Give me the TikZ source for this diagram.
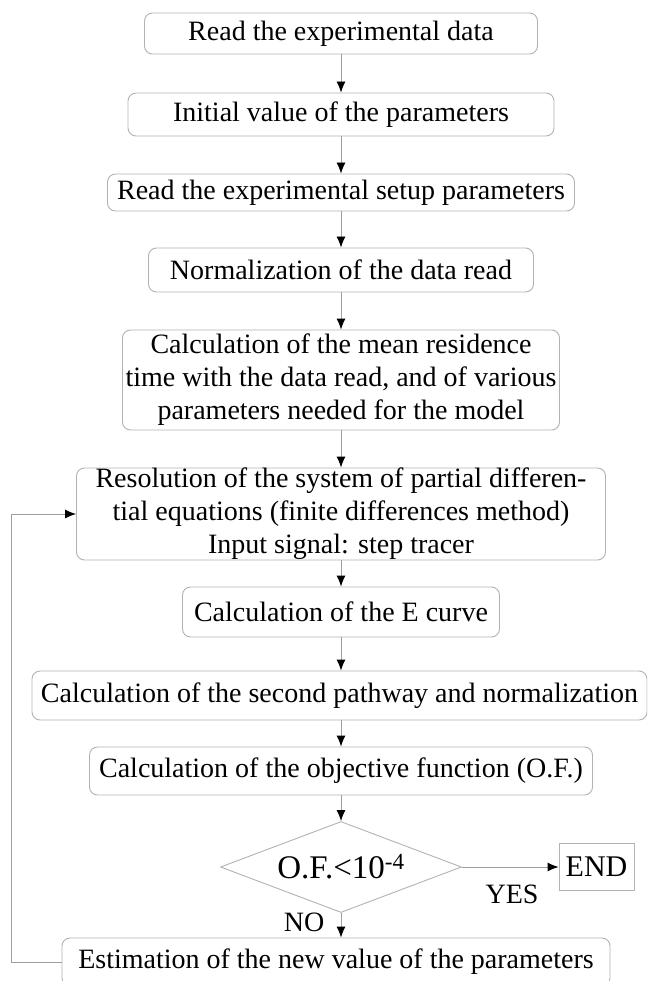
\documentclass[tikz,border=0pt]{standalone}
\usepackage{fontspec}
\setmainfont{Liberation Serif}
\usetikzlibrary{shapes.geometric, arrows.meta}

\begin{document}
\begin{tikzpicture}[x=1pt, y=-1pt,
    box/.style={draw=gray!60, rounded corners=8pt, line width=0.9pt, inner sep=0pt, align=center, font=\fontsize{28}{33}\selectfont},
    flow/.style={draw=gray!75, line width=0.9pt, -{Latex[length=11pt, width=9pt, color=black]}},
    tag/.style={font=\fontsize{28}{33}\selectfont}]
    % Frame
    \clip (0,0) rectangle (647,981);

    % Steps
    \node[box, minimum width=393pt, minimum height=41pt] (read) at (341,33.5) {Read the experimental data};
    \node[box, minimum width=426pt, minimum height=43pt] (init) at (341,114.5) {Initial value of the parameters};
    \node[box, minimum width=467pt, minimum height=37pt] (setup) at (341,192.5) {Read the experimental setup parameters};
    \node[box, minimum width=385pt, minimum height=44pt] (norm) at (341,270) {Normalization of the data read};
    \node[box, minimum width=437pt, minimum height=100pt] (mean) at (341,380) {Calculation of the mean residence\\time with the data read, and of various\\parameters needed for the model};
    \node[box, minimum width=529pt, minimum height=92pt] (pde) at (341,514) {Resolution of the system of partial differen-\\tial equations (finite differences method)\\Input signal: step tracer};
    \node[box, minimum width=317pt, minimum height=50pt] (ecurve) at (341,612) {Calculation of the E curve};
    \node[box, minimum width=615pt, minimum height=49pt] (second) at (339.5,695.5) {Calculation of the second pathway and normalization};
    \node[box, minimum width=503pt, minimum height=48pt] (objective) at (341,771) {Calculation of the objective function (O.F.)};

    % Test
    \node[diamond, aspect=2.65, draw=gray!60, line width=0.9pt, inner sep=0pt, minimum width=241pt, minimum height=91pt, font=\fontsize{33}{40}\selectfont] (test) at (341,867) {O.F.<10\textsuperscript{-4}};
    \node[draw=gray!60, line width=0.9pt, minimum width=75pt, minimum height=47pt, inner sep=0pt, font=\fontsize{30}{36}\selectfont] (fin) at (596.5,867) {END};
    \node[box, minimum width=548pt, minimum height=48pt] (update) at (336,962) {Estimation of the new value of the parameters};

    % Arrows
    \draw[flow] (read) -- (init);
    \draw[flow] (init) -- (setup);
    \draw[flow] (setup) -- (norm);
    \draw[flow] (norm) -- (mean);
    \draw[flow] (mean) -- (pde);
    \draw[flow] (pde) -- (ecurve);
    \draw[flow] (ecurve.south) -- (ecurve.south |- second.north);
    \draw[flow] (objective.north |- second.south) -- (objective.north);
    \draw[flow] (objective) -- (test);
    \draw[flow] (test) -- (fin);
    \draw[flow] (test.south) -- (test.south |- update.north);

    % Loop back
    \draw[flow] (update.west) -- ++(-50,0) |- (pde.west);

    % Labels
    \node[tag] (yes) at (512,894) {YES};
    \node[tag] (no) at (304,922) {NO};
\end{tikzpicture}
\end{document}
